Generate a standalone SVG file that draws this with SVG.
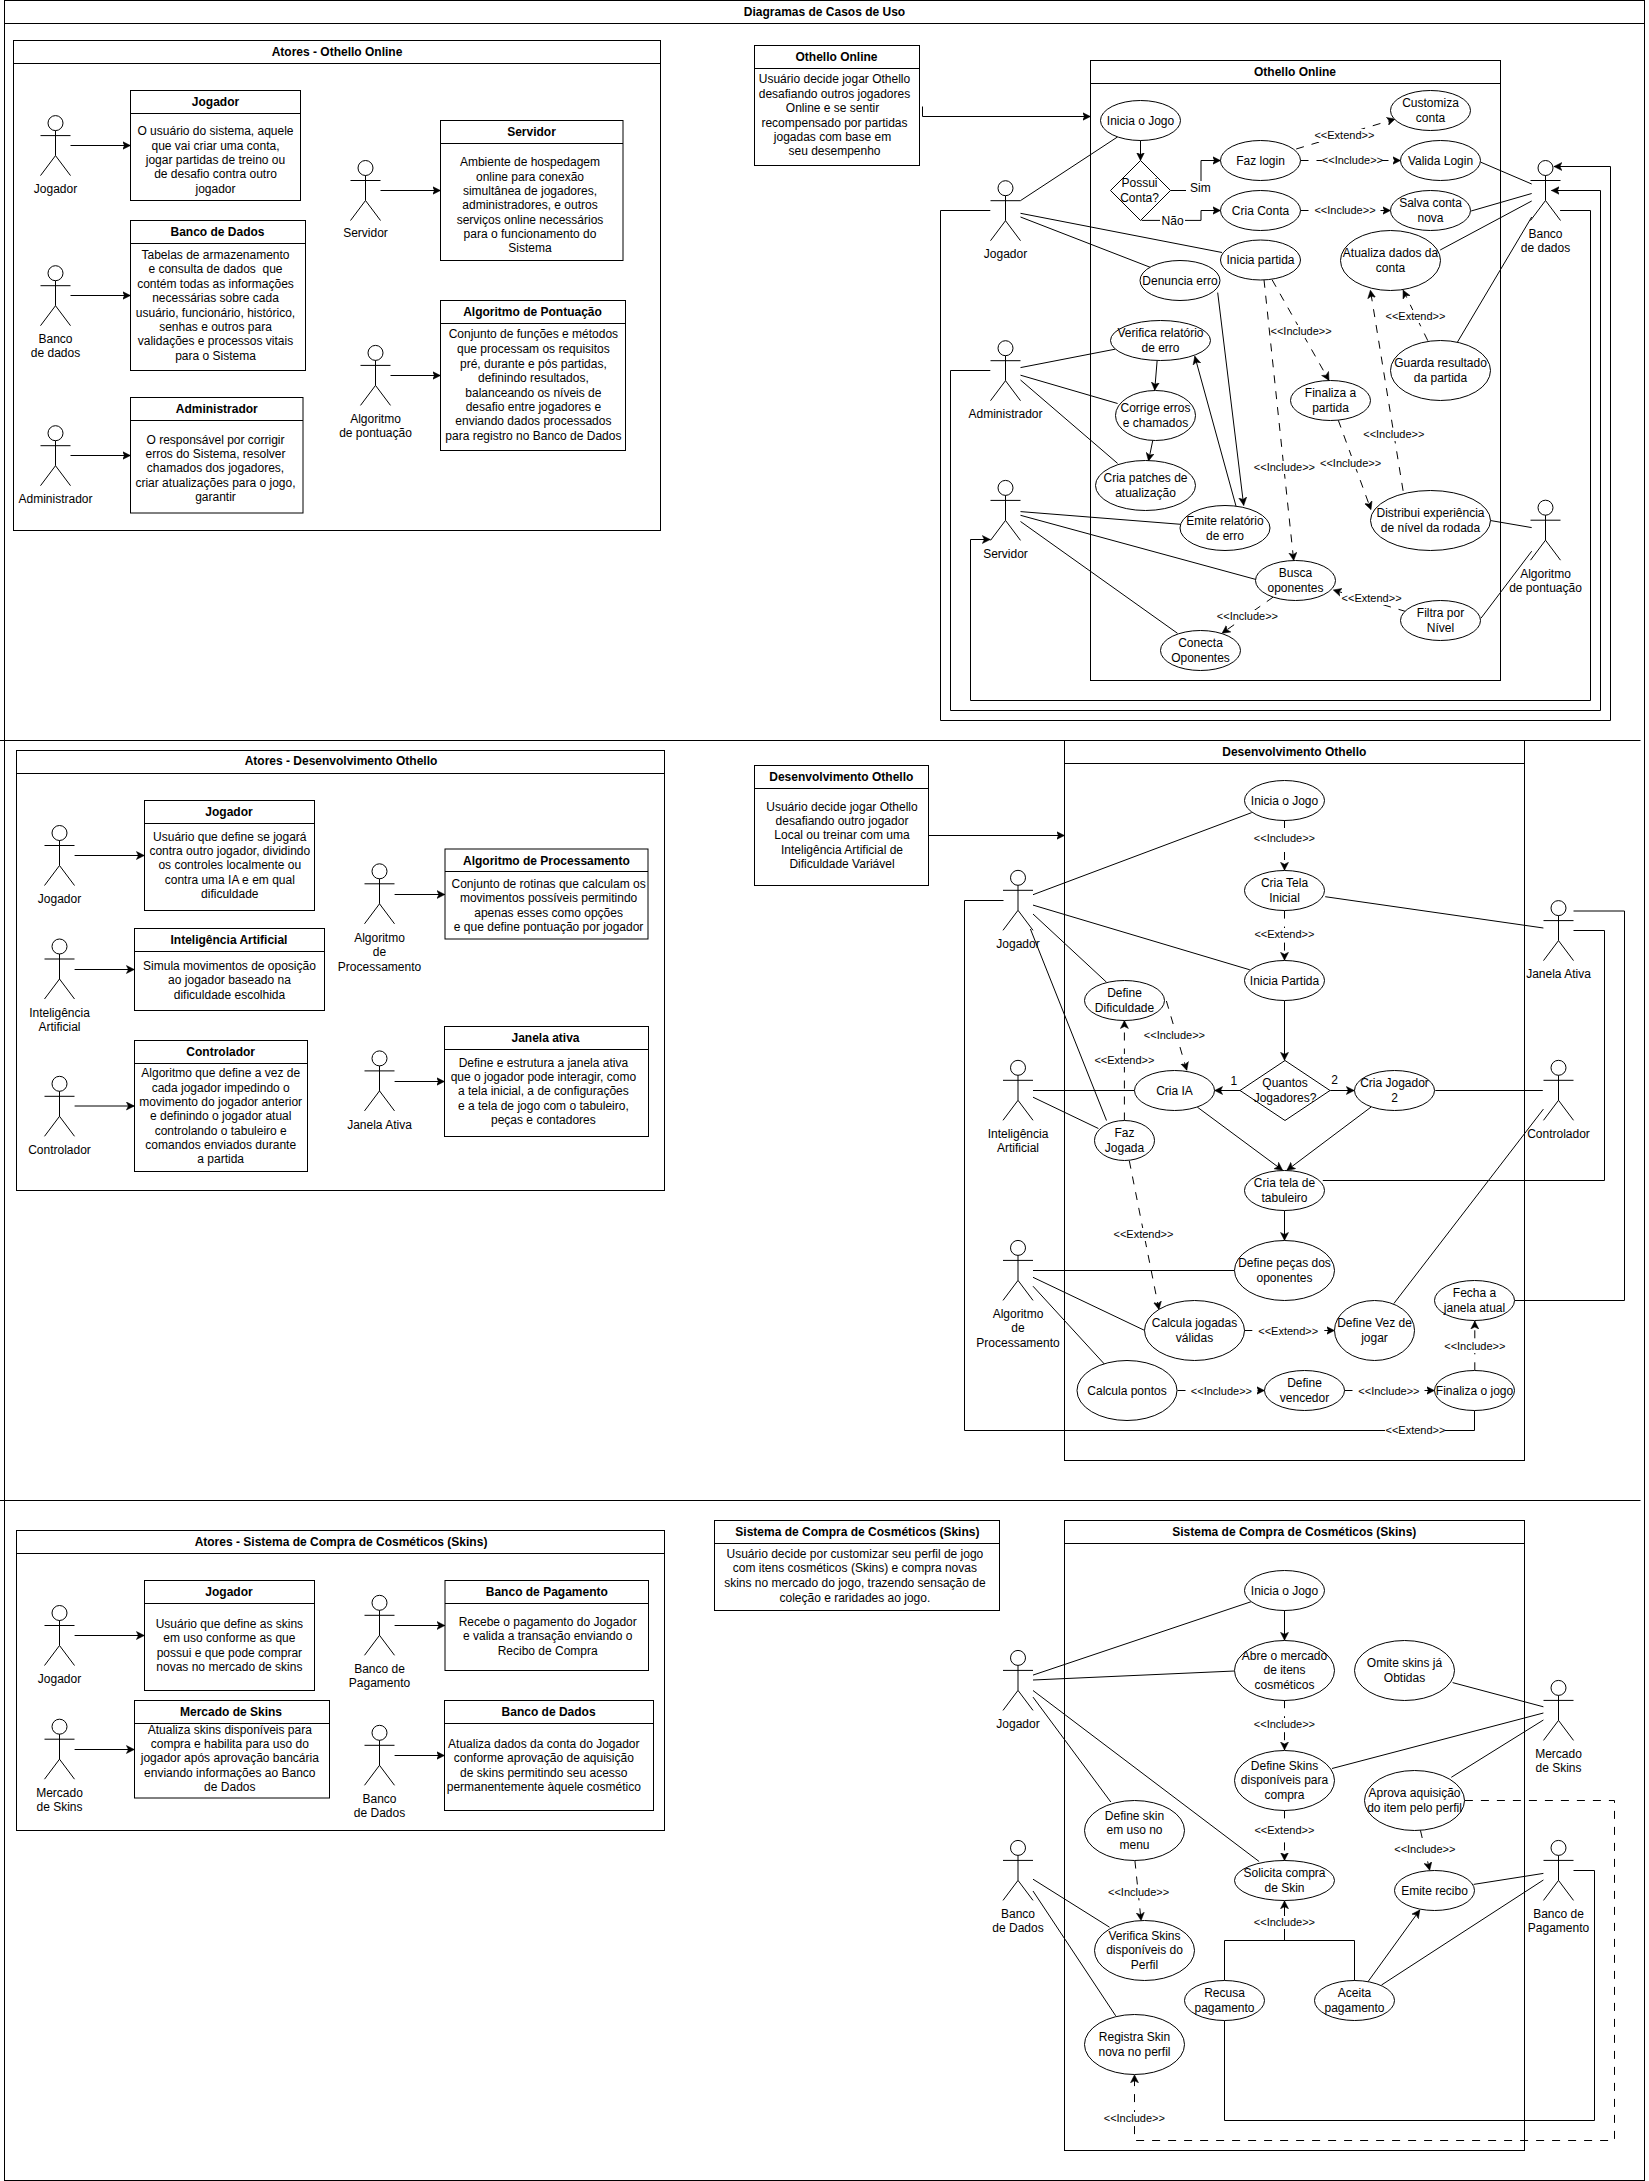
<svg xmlns="http://www.w3.org/2000/svg" width="1649" height="2181" viewBox="0 0 1649 2181">
<defs>
<marker id="ah" markerUnits="userSpaceOnUse" markerWidth="9" markerHeight="9" refX="8" refY="4" orient="auto" viewBox="0 0 9 8"><path d="M0 0L8 4L0 8L2 4Z" fill="#000" stroke="#000" stroke-width=".5"/></marker>
</defs>
<style>
text{font-family:"Liberation Sans",Arial,Helvetica,sans-serif;font-size:12px;fill:#000;text-anchor:middle}
.t{font-weight:bold}
.m{font-size:11px}
.box{fill:none;stroke:#000;stroke-width:1}
.n{fill:#fff;stroke:#000;stroke-width:1}
.s{fill:none;stroke:#000;stroke-width:1}
.a{marker-end:url(#ah)}
.d{stroke-dasharray:8 8}
.w{fill:#fff;stroke:none}
.actor ellipse{fill:#fff;stroke:#000}
.actor path{fill:none;stroke:#000}
</style>
<rect width="1649" height="2181" fill="#fff"/>
<g id="frame">
<rect class="box" x="4.5" y="0.5" width="1640" height="2180"/>
<path class="s" d="M4.5 23.5H1644.5M0 740.5H1640.5M0 1500.5H1640.5"/>
<text class="t" x="824.5" y="16">Diagramas de Casos de Uso</text>
</g>

<g id="lane-atores-online"><rect class="box" x="13.5" y="40.5" width="647" height="490"/><path class="s" d="M13.5 63.5H660.5"/><text class="t" x="337" y="56">Atores - Othello Online</text></g>
<g id="lane-online"><rect class="box" x="1090.5" y="60.5" width="410" height="620"/><path class="s" d="M1090.5 83.5H1500.5"/><text class="t" x="1295" y="76">Othello Online</text></g>
<g id="lane-atores-dev"><rect class="box" x="16.5" y="750.5" width="648" height="440"/><path class="s" d="M16.5 773.5H664.5"/><text class="t" x="341" y="765">Atores - Desenvolvimento Othello</text></g>
<g id="lane-dev"><rect class="box" x="1064.5" y="740.5" width="460" height="720"/><path class="s" d="M1064.5 763.5H1524.5"/><text class="t" x="1294.3" y="755.5">Desenvolvimento Othello</text></g>
<g id="lane-atores-skins"><rect class="box" x="16.5" y="1530.5" width="648" height="300"/><path class="s" d="M16.5 1553.5H664.5"/><text class="t" x="341" y="1546">Atores - Sistema de Compra de Cosméticos (Skins)</text></g>
<g id="lane-skins"><rect class="box" x="1064.5" y="1520.5" width="460" height="630"/><path class="s" d="M1064.5 1543.5H1524.5"/><text class="t" x="1294.3" y="1536">Sistema de Compra de Cosméticos (Skins)</text></g>

<g id="connectors">
<!-- section 1 actors -->
<path class="s a" d="M70.5 145.5H130.5"/><path class="s a" d="M70.5 295.5H130.5"/><path class="s a" d="M70.5 455.5H130.5"/>
<path class="s a" d="M380.5 190.5H440.5"/><path class="s a" d="M390.5 375.5H440.5"/>
<!-- online -->
<path class="s a" d="M922.5 106.5V116.5H1090.5"/>
<path class="s a" d="M1140.5 140.2V160.5"/>
<path class="s" d="M1020.5 200.6L1117.6 136.9"/>
<path class="s a" d="M1170.5 190.5H1201V160.5H1220.5"/>
<path class="s a" d="M1141.7 220.4H1201V210.5H1220.5"/>
<path class="s d a" d="M1296.2 149L1395.1 119"/>
<path class="s d a" d="M1300.5 160.5H1400.5"/>
<path class="s d a" d="M1300.5 210.5H1390.5"/>
<path class="s" d="M1481 162.3L1531.7 184"/>
<path class="s" d="M1471.1 211L1531.7 193.5"/>
<path class="s" d="M1440.2 250L1531.7 201"/>
<path class="s" d="M1457.5 342L1531.7 217"/>
<path class="s" d="M1020.5 213.3L1222 252.5"/>
<path class="s" d="M1020.5 217L1151 267.6"/>
<path class="s a" d="M1217.7 292.6L1243.7 505.4"/>
<path class="s a" d="M1236.2 506.8L1194.8 356.3"/>
<path class="s a" d="M1157.1 361L1154.7 390.3"/>
<path class="s a" d="M1152.8 440.3L1148.5 461"/>
<path class="s" d="M1020.5 367.6L1115.1 349.2"/>
<path class="s" d="M1020.5 375.2L1117.6 403.5"/>
<path class="s" d="M1020.5 380L1117.6 463.4"/>
<path class="s" d="M1020.5 511.6L1180.6 524.3"/>
<path class="s" d="M1020.5 515.3L1256 579.5"/>
<path class="s" d="M1020.5 521.5L1177.5 633.3"/>
<path class="s d a" d="M1264 279.8L1293.7 560.6"/>
<path class="s d a" d="M1272.1 279.8L1329 380.4"/>
<path class="s d a" d="M1338.2 420L1371 509.7"/>
<path class="s d a" d="M1403.1 490.8L1370.4 290.2"/>
<path class="s d a" d="M1427.8 340.7L1403.1 290.2"/>
<path class="s" d="M1490.3 520.5L1531.7 527.6"/>
<path class="s d a" d="M1406.2 611.6L1333.3 590"/>
<path class="s" d="M1481 618.2L1531.7 551.2"/>
<path class="s d a" d="M1273.3 597L1222 633.3"/>
<path class="s a" d="M990.3 210.5H940.5V720.5H1610.5V166.5H1553.9"/>
<path class="s a" d="M990.3 370.5H950.5V710.5H1600.5V190.5H1551.4"/>
<path class="s a" d="M1560.1 210.5H1590.5V700.5H970.5V539.5H990.3"/>
<!-- section 2 -->
<path class="s a" d="M74.6 855.5H144.4"/><path class="s a" d="M74.6 969.5H134.4"/><path class="s a" d="M74.6 1106H134.4"/>
<path class="s a" d="M394.6 894.5H444.9"/><path class="s a" d="M394.6 1081.5H444.5"/>
<path class="s a" d="M928.5 835.5H1064.5"/>
<path class="s" d="M1033 894.7L1251.7 812.6"/>
<path class="s" d="M1033 905.1L1249.8 969.8"/>
<path class="s" d="M1033 914L1106.5 982.2"/>
<path class="s" d="M1030.4 929L1106.5 1120.5"/>
<path class="s d a" d="M1284.5 820V870.3"/>
<path class="s d a" d="M1284.5 910.6V960.3"/>
<path class="s" d="M1325.2 896.7L1543.4 928"/>
<path class="s a" d="M1284.5 1000.6V1060.3"/>
<path class="s d a" d="M1166.4 1001L1186.8 1070.3"/>
<path class="s d a" d="M1124.4 1120.5V1020.5"/>
<path class="s d a" d="M1129.3 1160.8L1159 1309.6"/>
<path class="s a" d="M1240 1090.5H1214.6"/>
<path class="s a" d="M1330.2 1090.5H1354.3"/>
<path class="s" d="M1033 1090.5H1134.3"/>
<path class="s" d="M1033 1097.2L1098.4 1128.5"/>
<path class="s a" d="M1197.3 1107.1L1282.6 1170.3"/>
<path class="s a" d="M1371 1107.1L1286.9 1170.3"/>
<path class="s" d="M1435.3 1090.5H1542.8"/>
<path class="s a" d="M1284.5 1210.6V1240.4"/>
<path class="s" d="M1322.8 1180.5H1604.5V930.5H1573.5"/>
<path class="s" d="M1515 1300.5H1624.5V911H1573.5"/>
<path class="s" d="M1033 1270.5H1234.4"/>
<path class="s" d="M1033 1277.3L1144.8 1330.5"/>
<path class="s" d="M1033 1286.2L1104.6 1364.3"/>
<path class="s d a" d="M1244.3 1330.5H1334.5"/>
<path class="s" d="M1393.8 1303.6L1543.4 1109.1"/>
<path class="s d a" d="M1177.5 1390.5H1264.5"/>
<path class="s d a" d="M1344.5 1390.5H1434.5"/>
<path class="s d a" d="M1474.8 1370.3V1321"/>
<path class="s" d="M1474.5 1410.6V1430.5H964.5V900.5H1003.5"/>
<!-- section 3 -->
<path class="s a" d="M74.6 1635.5H144.4"/><path class="s a" d="M74.6 1749.5H134.4"/>
<path class="s a" d="M394.6 1625.5H444.9"/><path class="s a" d="M394.6 1755.5H444.5"/>
<path class="s" d="M1033 1675.1L1251.7 1601.5"/>
<path class="s" d="M1033 1680L1234.4 1671"/>
<path class="s" d="M1033 1697.1L1110.8 1802"/>
<path class="s" d="M1033 1690.5L1259.1 1861.5"/>
<path class="s a" d="M1284.5 1609.9V1640.3"/>
<path class="s d a" d="M1284.5 1700.2V1750"/>
<path class="s d a" d="M1284.5 1810.4V1860.6"/>
<path class="s d a" d="M1134.9 1860.6L1141.1 1920.6"/>
<path class="s" d="M1033 1879.2L1109.5 1927.2"/>
<path class="s" d="M1033 1891L1115.7 2015.8"/>
<path class="s" d="M1452.6 1682.6L1543.4 1706.8"/>
<path class="s" d="M1332 1768.5L1543.4 1713"/>
<path class="s" d="M1451.3 1777.3L1543.4 1720"/>
<path class="s d a" d="M1420.4 1830.2L1429.7 1870.3"/>
<path class="s" d="M1473.6 1884.4L1543.4 1873.4"/>
<path class="s a" d="M1367.9 1981.8L1419.8 1910"/>
<path class="s" d="M1381.5 1985L1543.4 1880"/>
<path class="s" d="M1224.5 1980.5V1940.5H1354.5V1981.8"/>
<path class="s a" d="M1284.5 1940.5V1900.8"/>
<path class="s" d="M1224.5 2020.6V2120.5H1594.5V1870.5H1573.5"/>
<path class="s d a" d="M1464.9 1800.5H1614.5V2140.5H1134.5V2074.8"/>
<!-- labels -->
<rect class="w" x="1186" y="181" width="29" height="14"/><text x="1200.4" y="192">Sim</text>
<rect class="w" x="1160" y="213" width="25" height="14"/><text x="1172.6" y="224.5">Não</text>
<rect class="w" x="1315" y="129" width="60" height="13"/><text class="m" x="1344.4" y="139">&lt;&lt;Extend&gt;&gt;</text>
<rect class="w" x="1322" y="154" width="60" height="13"/><text class="m" x="1352.4" y="164">&lt;&lt;Include&gt;&gt;</text>
<rect class="w" x="1315" y="204" width="60" height="13"/><text class="m" x="1345" y="214">&lt;&lt;Include&gt;&gt;</text>
<rect class="w" x="1254" y="461" width="60" height="13"/><text class="m" x="1284.4" y="471">&lt;&lt;Include&gt;&gt;</text>
<rect class="w" x="1271" y="325" width="60" height="13"/><text class="m" x="1301.1" y="335">&lt;&lt;Include&gt;&gt;</text>
<rect class="w" x="1321" y="456" width="60" height="13"/><text class="m" x="1350.6" y="466.5">&lt;&lt;Include&gt;&gt;</text>
<rect class="w" x="1364" y="428" width="60" height="13"/><text class="m" x="1393.8" y="438">&lt;&lt;Include&gt;&gt;</text>
<rect class="w" x="1385" y="310" width="60" height="13"/><text class="m" x="1415.5" y="320">&lt;&lt;Extend&gt;&gt;</text>
<rect class="w" x="1342" y="592" width="60" height="13"/><text class="m" x="1371.6" y="602">&lt;&lt;Extend&gt;&gt;</text>
<rect class="w" x="1217" y="610" width="60" height="13"/><text class="m" x="1247.4" y="620">&lt;&lt;Include&gt;&gt;</text>

<rect class="w" x="1254" y="832" width="60" height="13"/><text class="m" x="1284.4" y="842">&lt;&lt;Include&gt;&gt;</text>
<rect class="w" x="1254" y="928" width="60" height="13"/><text class="m" x="1284.4" y="938">&lt;&lt;Extend&gt;&gt;</text>
<rect class="w" x="1144" y="1029" width="60" height="13"/><text class="m" x="1174.4" y="1039">&lt;&lt;Include&gt;&gt;</text>
<rect class="w" x="1094" y="1054" width="60" height="13"/><text class="m" x="1124.4" y="1064">&lt;&lt;Extend&gt;&gt;</text>
<rect class="w" x="1113" y="1228" width="60" height="13"/><text class="m" x="1143.5" y="1238">&lt;&lt;Extend&gt;&gt;</text>
<text x="1233.8" y="1084.5">1</text><text x="1334.5" y="1084">2</text>
<rect class="w" x="1258" y="1324" width="60" height="13"/><text class="m" x="1288.2" y="1334.5">&lt;&lt;Extend&gt;&gt;</text>
<rect class="w" x="1191" y="1384" width="60" height="13"/><text class="m" x="1221.4" y="1394.5">&lt;&lt;Include&gt;&gt;</text>
<rect class="w" x="1359" y="1384" width="60" height="13"/><text class="m" x="1388.9" y="1394.5">&lt;&lt;Include&gt;&gt;</text>
<rect class="w" x="1445" y="1340" width="60" height="13"/><text class="m" x="1474.8" y="1350">&lt;&lt;Include&gt;&gt;</text>
<rect class="w" x="1385" y="1424" width="60" height="13"/><text class="m" x="1415.5" y="1434">&lt;&lt;Extend&gt;&gt;</text>

<rect class="w" x="1254" y="1718" width="60" height="13"/><text class="m" x="1284.4" y="1728">&lt;&lt;Include&gt;&gt;</text>
<rect class="w" x="1254" y="1824" width="60" height="13"/><text class="m" x="1284.4" y="1834">&lt;&lt;Extend&gt;&gt;</text>
<rect class="w" x="1108" y="1885" width="60" height="13"/><text class="m" x="1138.6" y="1895.5">&lt;&lt;Include&gt;&gt;</text>
<rect class="w" x="1395" y="1843" width="60" height="13"/><text class="m" x="1424.8" y="1853">&lt;&lt;Include&gt;&gt;</text>
<rect class="w" x="1254" y="1916" width="60" height="13"/><text class="m" x="1284.4" y="1926">&lt;&lt;Include&gt;&gt;</text>
<rect class="w" x="1104" y="2112" width="60" height="13"/><text class="m" x="1134.3" y="2122">&lt;&lt;Include&gt;&gt;</text>
</g>

<!-- info boxes section 1 -->
<g id="box-jogador-1"><rect class="box" x="130.5" y="90.5" width="170" height="110"/><path class="s" d="M130.5 113.5H300.5"/><text class="t" x="215.5" y="106">Jogador</text><text><tspan x="215.5" y="135">O usuário do sistema, aquele</tspan><tspan x="215.5" y="149.5">que vai criar uma conta,</tspan><tspan x="215.5" y="163.5">jogar partidas de treino ou</tspan><tspan x="215.5" y="178">de desafio contra outro</tspan><tspan x="215.5" y="192.5">jogador</tspan></text></g>
<g id="box-banco-1"><rect class="box" x="130.5" y="220.5" width="175" height="150"/><path class="s" d="M130.5 243.5H305.5"/><text class="t" x="217.5" y="236">Banco de Dados</text><text><tspan x="215.5" y="259">Tabelas de armazenamento</tspan><tspan x="215.5" y="273" xml:space="preserve">e consulta de dados  que</tspan><tspan x="215.5" y="287.5">contém todas as informações</tspan><tspan x="215.5" y="302">necessárias sobre cada</tspan><tspan x="215.5" y="316.5">usuário, funcionário, histórico,</tspan><tspan x="215.5" y="331">senhas e outros para</tspan><tspan x="215.5" y="345">validações e processos vitais</tspan><tspan x="215.5" y="359.5">para o Sistema</tspan></text></g>
<g id="box-admin-1"><rect class="box" x="130.5" y="397.5" width="172.5" height="115.5"/><path class="s" d="M130.5 420.5H303"/><text class="t" x="216.8" y="413">Administrador</text><text><tspan x="215.5" y="444">O responsável por corrigir</tspan><tspan x="215.5" y="458">erros do Sistema, resolver</tspan><tspan x="215.5" y="472">chamados dos jogadores,</tspan><tspan x="215.5" y="487">criar atualizações para o jogo,</tspan><tspan x="215.5" y="501">garantir</tspan></text></g>
<g id="box-servidor-1"><rect class="box" x="440.5" y="120.5" width="182.5" height="140"/><path class="s" d="M440.5 143.5H623"/><text class="t" x="531.5" y="136">Servidor</text><text><tspan x="530" y="166">Ambiente de hospedagem</tspan><tspan x="530" y="181">online para conexão</tspan><tspan x="530" y="195">simultânea de jogadores,</tspan><tspan x="530" y="209">administradores, e outros</tspan><tspan x="530" y="224">serviços online necessários</tspan><tspan x="530" y="238">para o funcionamento do</tspan><tspan x="530" y="252">Sistema</tspan></text></g>
<g id="box-algoritmo-1"><rect class="box" x="440.5" y="300.5" width="185" height="150"/><path class="s" d="M440.5 323.5H625.5"/><text class="t" x="532.5" y="316">Algoritmo de Pontuação</text><text><tspan x="533.4" y="338">Conjunto de funções e métodos</tspan><tspan x="533.4" y="353">que processam os requisitos</tspan><tspan x="533.4" y="368">pré, durante e pós partidas,</tspan><tspan x="533.4" y="382">definindo resultados,</tspan><tspan x="533.4" y="397">balanceando os níveis de</tspan><tspan x="533.4" y="411">desafio entre jogadores e</tspan><tspan x="533.4" y="425">enviando dados processados</tspan><tspan x="533.4" y="440">para registro no Banco de Dados</tspan></text></g>
<g id="box-online"><rect class="box" x="754.5" y="45.5" width="165" height="120"/><path class="s" d="M754.5 68.5H919.5"/><text class="t" x="836.5" y="61">Othello Online</text><text><tspan x="834.5" y="83">Usuário decide jogar Othello</tspan><tspan x="834.5" y="97.5">desafiando outros jogadores</tspan><tspan x="832.5" y="112">Online e se sentir</tspan><tspan x="834.5" y="127">recompensado por partidas</tspan><tspan x="832.5" y="141">jogadas com base em</tspan><tspan x="834.5" y="155">seu desempenho</tspan></text></g>

<!-- section 2 boxes -->
<g id="box-jogador-2"><rect class="box" x="144.5" y="800.5" width="170" height="110"/><path class="s" d="M144.5 823.5H314.5"/><text class="t" x="229" y="816">Jogador</text><text><tspan x="229.8" y="840.5">Usuário que define se jogará</tspan><tspan x="229.8" y="854.5">contra outro jogador, dividindo</tspan><tspan x="229.8" y="869">os controles localmente ou</tspan><tspan x="229.8" y="884">contra uma IA e em qual</tspan><tspan x="229.8" y="898">dificuldade</tspan></text></g>
<g id="box-ia-2"><rect class="box" x="134.5" y="928.5" width="190" height="82"/><path class="s" d="M134.5 951.5H324.5"/><text class="t" x="229" y="943.5">Inteligência Artificial</text><text><tspan x="229.5" y="969.5">Simula movimentos de oposição</tspan><tspan x="229.5" y="984">ao jogador baseado na</tspan><tspan x="229.5" y="999">dificuldade escolhida</tspan></text></g>
<g id="box-controlador-2"><rect class="box" x="134.5" y="1040.5" width="173" height="131"/><path class="s" d="M134.5 1063.5H307.5"/><text class="t" x="220.7" y="1055.5">Controlador</text><text><tspan x="220.7" y="1077">Algoritmo que define a vez de</tspan><tspan x="220.7" y="1092">cada jogador impedindo o</tspan><tspan x="220.7" y="1106">movimento do jogador anterior</tspan><tspan x="220.7" y="1120">e definindo o jogador atual</tspan><tspan x="220.7" y="1134.5">controlando o tabuleiro e</tspan><tspan x="220.7" y="1148.5">comandos enviados durante</tspan><tspan x="220.7" y="1162.5">a partida</tspan></text></g>
<g id="box-processamento-2"><rect class="box" x="445" y="849" width="203" height="90"/><path class="s" d="M445 871.5H648"/><text class="t" x="546.4" y="864.5">Algoritmo de Processamento</text><text><tspan x="548.6" y="888">Conjunto de rotinas que calculam os</tspan><tspan x="548.6" y="902">movimentos possíveis permitindo</tspan><tspan x="548.6" y="917">apenas esses como opções</tspan><tspan x="548.6" y="930.5">e que define pontuação por jogador</tspan></text></g>
<g id="box-janela-2"><rect class="box" x="444.5" y="1026.5" width="204" height="110"/><path class="s" d="M444.5 1049.5H648.5"/><text class="t" x="545.5" y="1041.5">Janela ativa</text><text><tspan x="543.4" y="1066.5">Define e estrutura a janela ativa</tspan><tspan x="543.4" y="1081">que o jogador pode interagir, como</tspan><tspan x="543.4" y="1095">a tela inicial, a de configurações</tspan><tspan x="543.4" y="1109.5">e a tela de jogo com o tabuleiro,</tspan><tspan x="543.4" y="1123.5">peças e contadores</tspan></text></g>
<g id="box-dev"><rect class="box" x="754.5" y="765.5" width="174" height="120"/><path class="s" d="M754.5 788.5H928.5"/><text class="t" x="841.3" y="781">Desenvolvimento Othello</text><text><tspan x="842" y="811">Usuário decide jogar Othello</tspan><tspan x="842" y="825">desafiando outro jogador</tspan><tspan x="842" y="839">Local ou treinar com uma</tspan><tspan x="842" y="853.5">Inteligência Artificial de</tspan><tspan x="842" y="868">Dificuldade Variável</tspan></text></g>

<!-- section 3 boxes -->
<g id="box-jogador-3"><rect class="box" x="144.5" y="1580.5" width="170" height="110"/><path class="s" d="M144.5 1603.5H314.5"/><text class="t" x="229" y="1596">Jogador</text><text><tspan x="229.4" y="1627.5">Usuário que define as skins</tspan><tspan x="229.4" y="1641.5">em uso conforme as que</tspan><tspan x="229.4" y="1656.5">possui e que pode comprar</tspan><tspan x="229.4" y="1670.5">novas no mercado de skins</tspan></text></g>
<g id="box-mercado-3"><rect class="box" x="134.5" y="1700.5" width="195" height="97.5"/><path class="s" d="M134.5 1723.5H329.5"/><text class="t" x="231" y="1716">Mercado de Skins</text><text><tspan x="229.8" y="1734">Atualiza skins disponíveis para</tspan><tspan x="229.8" y="1748">compra e habilita para uso do</tspan><tspan x="229.8" y="1762">jogador após aprovação bancária</tspan><tspan x="229.8" y="1776.5">enviando informações ao Banco</tspan><tspan x="229.8" y="1791">de Dados</tspan></text></g>
<g id="box-pagamento-3"><rect class="box" x="445" y="1580.5" width="203.5" height="90"/><path class="s" d="M445 1603.5H648.5"/><text class="t" x="546.8" y="1596">Banco de Pagamento</text><text><tspan x="547.7" y="1626">Recebe o pagamento do Jogador</tspan><tspan x="547.7" y="1640">e valida a transação enviando o</tspan><tspan x="547.7" y="1655">Recibo de Compra</tspan></text></g>
<g id="box-dados-3"><rect class="box" x="444.5" y="1700.5" width="209" height="110"/><path class="s" d="M444.5 1723.5H653.5"/><text class="t" x="548.6" y="1716">Banco de Dados</text><text><tspan x="543.8" y="1748">Atualiza dados da conta do Jogador</tspan><tspan x="543.8" y="1762">conforme aprovação de aquisição</tspan><tspan x="543.8" y="1776.5">de skins permitindo seu acesso</tspan><tspan x="543.8" y="1791">permanentemente àquele cosmético</tspan></text></g>
<g id="box-skins"><rect class="box" x="714.5" y="1520.5" width="285" height="90"/><path class="s" d="M714.5 1543.5H999.5"/><text class="t" x="857.4" y="1536">Sistema de Compra de Cosméticos (Skins)</text><text><tspan x="854.9" y="1558">Usuário decide por customizar seu perfil de jogo</tspan><tspan x="854.9" y="1572">com itens cosméticos (Skins) e compra novas</tspan><tspan x="854.9" y="1587">skins no mercado do jogo, trazendo sensação de</tspan><tspan x="854.9" y="1601.5">coleção e raridades ao jogo.</tspan></text></g>

<!-- actors -->
<g class="actor" id="ac1"><ellipse cx="55.5" cy="123.1" rx="7.5" ry="7.5"/><path d="M55.5 130.6V155.6M40.5 135.6H70.5M40.5 175.6L55.5 155.6L70.5 175.6"/><text x="55.5" y="192.5">Jogador</text></g>
<g class="actor" id="ac2"><ellipse cx="55.5" cy="273.2" rx="7.5" ry="7.5"/><path d="M55.5 280.7V305.7M40.5 285.7H70.5M40.5 325.7L55.5 305.7L70.5 325.7"/><text><tspan x="55.5" y="342.5">Banco</tspan><tspan x="55.5" y="356.5">de dados</tspan></text></g>
<g class="actor" id="ac3"><ellipse cx="55.5" cy="433.2" rx="7.5" ry="7.5"/><path d="M55.5 440.7V465.7M40.5 445.7H70.5M40.5 485.7L55.5 465.7L70.5 485.7"/><text x="55.5" y="503">Administrador</text></g>
<g class="actor" id="ac4"><ellipse cx="365.5" cy="168" rx="7.5" ry="7.5"/><path d="M365.5 175.5V200.5M350.5 180.5H380.5M350.5 220.5L365.5 200.5L380.5 220.5"/><text x="365.5" y="237">Servidor</text></g>
<g class="actor" id="ac5"><ellipse cx="375.5" cy="352.9" rx="7.5" ry="7.5"/><path d="M375.5 360.4V385.4M360.5 365.4H390.5M360.5 405.4L375.5 385.4L390.5 405.4"/><text><tspan x="375.5" y="422.5">Algoritmo</tspan><tspan x="375.5" y="437">de pontuação</tspan></text></g>
<g class="actor" id="ac6"><ellipse cx="1005.5" cy="188.2" rx="7.5" ry="7.5"/><path d="M1005.5 195.7V220.7M990.5 200.7H1020.5M990.5 240.7L1005.5 220.7L1020.5 240.7"/><text x="1005.5" y="258">Jogador</text></g>
<g class="actor" id="ac7"><ellipse cx="1005.5" cy="348.2" rx="7.5" ry="7.5"/><path d="M1005.5 355.7V380.7M990.5 360.7H1020.5M990.5 400.7L1005.5 380.7L1020.5 400.7"/><text x="1005.5" y="418">Administrador</text></g>
<g class="actor" id="ac8"><ellipse cx="1005.5" cy="487.9" rx="7.5" ry="7.5"/><path d="M1005.5 495.4V520.4M990.5 500.4H1020.5M990.5 540.4L1005.5 520.4L1020.5 540.4"/><text x="1005.5" y="557.5">Servidor</text></g>
<g class="actor" id="ac9"><ellipse cx="1545.5" cy="168" rx="7.5" ry="7.5"/><path d="M1545.5 175.5V200.5M1530.5 180.5H1560.5M1530.5 220.5L1545.5 200.5L1560.5 220.5"/><text><tspan x="1545.5" y="237.5">Banco</tspan><tspan x="1545.5" y="252">de dados</tspan></text></g>
<g class="actor" id="ac10"><ellipse cx="1545.5" cy="507.7" rx="7.5" ry="7.5"/><path d="M1545.5 515.2V540.2M1530.5 520.2H1560.5M1530.5 560.2L1545.5 540.2L1560.5 560.2"/><text><tspan x="1545.5" y="577.5">Algoritmo</tspan><tspan x="1545.5" y="591.5">de pontuação</tspan></text></g>

<g class="actor" id="ac11"><ellipse cx="59.5" cy="833" rx="7.5" ry="7.5"/><path d="M59.5 840.5V865.5M44.5 845.5H74.5M44.5 885.5L59.5 865.5L74.5 885.5"/><text x="59.5" y="902.5">Jogador</text></g>
<g class="actor" id="ac12"><ellipse cx="59.5" cy="946.5" rx="7.5" ry="7.5"/><path d="M59.5 954V979M44.5 959H74.5M44.5 999L59.5 979L74.5 999"/><text><tspan x="59.5" y="1016.5">Inteligência</tspan><tspan x="59.5" y="1030.5">Artificial</tspan></text></g>
<g class="actor" id="ac13"><ellipse cx="59.5" cy="1083.8" rx="7.5" ry="7.5"/><path d="M59.5 1091.3V1116.3M44.5 1096.3H74.5M44.5 1136.3L59.5 1116.3L74.5 1136.3"/><text x="59.5" y="1153.5">Controlador</text></g>
<g class="actor" id="ac14"><ellipse cx="379.5" cy="871.3" rx="7.5" ry="7.5"/><path d="M379.5 878.8V903.8M364.5 883.8H394.5M364.5 923.8L379.5 903.8L394.5 923.8"/><text><tspan x="379.5" y="941.5">Algoritmo</tspan><tspan x="379.5" y="955.5">de</tspan><tspan x="379.5" y="970.5">Processamento</tspan></text></g>
<g class="actor" id="ac15"><ellipse cx="379.5" cy="1058.4" rx="7.5" ry="7.5"/><path d="M379.5 1065.9V1090.9M364.5 1070.9H394.5M364.5 1110.9L379.5 1090.9L394.5 1110.9"/><text x="379.5" y="1128.5">Janela Ativa</text></g>
<g class="actor" id="ac16"><ellipse cx="1018" cy="877.8" rx="7.5" ry="7.5"/><path d="M1018 885.3V910.3M1003 890.3H1033M1003 930.3L1018 910.3L1033 930.3"/><text x="1018" y="947.5">Jogador</text></g>
<g class="actor" id="ac17"><ellipse cx="1018" cy="1067.8" rx="7.5" ry="7.5"/><path d="M1018 1075.3V1100.3M1003 1080.3H1033M1003 1120.3L1018 1100.3L1033 1120.3"/><text><tspan x="1018" y="1137.5">Inteligência</tspan><tspan x="1018" y="1151.5">Artificial</tspan></text></g>
<g class="actor" id="ac18"><ellipse cx="1018" cy="1247.9" rx="7.5" ry="7.5"/><path d="M1018 1255.4V1280.4M1003 1260.4H1033M1003 1300.4L1018 1280.4L1033 1300.4"/><text><tspan x="1018" y="1317.5">Algoritmo</tspan><tspan x="1018" y="1331.5">de</tspan><tspan x="1018" y="1346.5">Processamento</tspan></text></g>
<g class="actor" id="ac19"><ellipse cx="1558.5" cy="908.1" rx="7.5" ry="7.5"/><path d="M1558.5 915.6V940.6M1543.5 920.6H1573.5M1543.5 960.6L1558.5 940.6L1573.5 960.6"/><text x="1558.5" y="978">Janela Ativa</text></g>
<g class="actor" id="ac20"><ellipse cx="1558.5" cy="1067.8" rx="7.5" ry="7.5"/><path d="M1558.5 1075.3V1100.3M1543.5 1080.3H1573.5M1543.5 1120.3L1558.5 1100.3L1573.5 1120.3"/><text x="1558.5" y="1137.5">Controlador</text></g>

<g class="actor" id="ac21"><ellipse cx="59.5" cy="1613" rx="7.5" ry="7.5"/><path d="M59.5 1620.5V1645.5M44.5 1625.5H74.5M44.5 1665.5L59.5 1645.5L74.5 1665.5"/><text x="59.5" y="1682.5">Jogador</text></g>
<g class="actor" id="ac22"><ellipse cx="59.5" cy="1726.7" rx="7.5" ry="7.5"/><path d="M59.5 1734.2V1759.2M44.5 1739.2H74.5M44.5 1779.2L59.5 1759.2L74.5 1779.2"/><text><tspan x="59.5" y="1797">Mercado</tspan><tspan x="59.5" y="1810.5">de Skins</tspan></text></g>
<g class="actor" id="ac23"><ellipse cx="379.5" cy="1602.8" rx="7.5" ry="7.5"/><path d="M379.5 1610.3V1635.3M364.5 1615.3H394.5M364.5 1655.3L379.5 1635.3L394.5 1655.3"/><text><tspan x="379.5" y="1672.5">Banco de</tspan><tspan x="379.5" y="1686.5">Pagamento</tspan></text></g>
<g class="actor" id="ac24"><ellipse cx="379.5" cy="1732.8" rx="7.5" ry="7.5"/><path d="M379.5 1740.3V1765.3M364.5 1745.3H394.5M364.5 1785.3L379.5 1765.3L394.5 1785.3"/><text><tspan x="379.5" y="1803">Banco</tspan><tspan x="379.5" y="1816.5">de Dados</tspan></text></g>
<g class="actor" id="ac25"><ellipse cx="1018" cy="1657.9" rx="7.5" ry="7.5"/><path d="M1018 1665.4V1690.4M1003 1670.4H1033M1003 1710.4L1018 1690.4L1033 1710.4"/><text x="1018" y="1728">Jogador</text></g>
<g class="actor" id="ac26"><ellipse cx="1558.5" cy="1687.9" rx="7.5" ry="7.5"/><path d="M1558.5 1695.4V1720.4M1543.5 1700.4H1573.5M1543.5 1740.4L1558.5 1720.4L1573.5 1740.4"/><text><tspan x="1558.5" y="1758">Mercado</tspan><tspan x="1558.5" y="1772">de Skins</tspan></text></g>
<g class="actor" id="ac27"><ellipse cx="1018" cy="1847.9" rx="7.5" ry="7.5"/><path d="M1018 1855.4V1880.4M1003 1860.4H1033M1003 1900.4L1018 1880.4L1033 1900.4"/><text><tspan x="1018" y="1918">Banco</tspan><tspan x="1018" y="1932">de Dados</tspan></text></g>
<g class="actor" id="ac28"><ellipse cx="1558.5" cy="1847.9" rx="7.5" ry="7.5"/><path d="M1558.5 1855.4V1880.4M1543.5 1860.4H1573.5M1543.5 1900.4L1558.5 1880.4L1573.5 1900.4"/><text><tspan x="1558.5" y="1918">Banco de</tspan><tspan x="1558.5" y="1932">Pagamento</tspan></text></g>

<!-- use cases: online -->
<g id="uc1"><ellipse class="n" cx="1140.5" cy="120.5" rx="40" ry="20"/><text x="1140.5" y="124.5">Inicia o Jogo</text></g>
<g id="uc2"><path class="n" d="M1140.5 160.5L1170.5 190.5L1140.5 220.5L1110.5 190.5Z"/><text><tspan x="1139.5" y="187">Possui</tspan><tspan x="1139.5" y="202">Conta?</tspan></text></g>
<g id="uc3"><ellipse class="n" cx="1260.5" cy="160.5" rx="40" ry="20"/><text x="1260.5" y="164.5">Faz login</text></g>
<g id="uc4"><ellipse class="n" cx="1260.5" cy="210.5" rx="40" ry="20"/><text x="1260.5" y="214.5">Cria Conta</text></g>
<g id="uc5"><ellipse class="n" cx="1430.5" cy="110.5" rx="40" ry="20"/><text><tspan x="1430.5" y="107">Customiza</tspan><tspan x="1430.5" y="122">conta</tspan></text></g>
<g id="uc6"><ellipse class="n" cx="1440.5" cy="160.5" rx="40" ry="20"/><text x="1440.5" y="164.5">Valida Login</text></g>
<g id="uc7"><ellipse class="n" cx="1430.5" cy="210.5" rx="40" ry="20"/><text><tspan x="1430.5" y="207">Salva conta</tspan><tspan x="1430.5" y="222">nova</tspan></text></g>
<g id="uc8"><ellipse class="n" cx="1390.5" cy="260.5" rx="50" ry="30"/><text><tspan x="1390.5" y="257">Atualiza dados da</tspan><tspan x="1390.5" y="272">conta</tspan></text></g>
<g id="uc9"><ellipse class="n" cx="1260.5" cy="260" rx="40" ry="20"/><text x="1260.5" y="264">Inicia partida</text></g>
<g id="uc10"><ellipse class="n" cx="1180" cy="280.5" rx="40" ry="20"/><text x="1180" y="284.5">Denuncia erro</text></g>
<g id="uc11"><ellipse class="n" cx="1160.5" cy="340.5" rx="50" ry="20"/><text><tspan x="1160.5" y="337">Verifica relatório</tspan><tspan x="1160.5" y="352">de erro</tspan></text></g>
<g id="uc12"><ellipse class="n" cx="1155.5" cy="415.5" rx="40" ry="25"/><text><tspan x="1155.5" y="412">Corrige erros</tspan><tspan x="1155.5" y="427">e chamados</tspan></text></g>
<g id="uc13"><ellipse class="n" cx="1145.5" cy="485.5" rx="50" ry="25"/><text><tspan x="1145.5" y="482">Cria patches de</tspan><tspan x="1145.5" y="497">atualização</tspan></text></g>
<g id="uc14"><ellipse class="n" cx="1225" cy="528" rx="45" ry="22.5"/><text><tspan x="1225" y="525">Emite relatório</tspan><tspan x="1225" y="540">de erro</tspan></text></g>
<g id="uc15"><ellipse class="n" cx="1330.5" cy="400.5" rx="40" ry="20"/><text><tspan x="1330.5" y="397">Finaliza a</tspan><tspan x="1330.5" y="412">partida</tspan></text></g>
<g id="uc16"><ellipse class="n" cx="1440.5" cy="370.5" rx="50" ry="30"/><text><tspan x="1440.5" y="367">Guarda resultado</tspan><tspan x="1440.5" y="382">da partida</tspan></text></g>
<g id="uc17"><ellipse class="n" cx="1430.5" cy="520.5" rx="60" ry="30"/><text><tspan x="1430.5" y="517">Distribui experiência</tspan><tspan x="1430.5" y="532">de nível da rodada</tspan></text></g>
<g id="uc18"><ellipse class="n" cx="1295.5" cy="580.5" rx="40" ry="20"/><text><tspan x="1295.5" y="577">Busca</tspan><tspan x="1295.5" y="592">oponentes</tspan></text></g>
<g id="uc19"><ellipse class="n" cx="1440.5" cy="620.5" rx="40" ry="20"/><text><tspan x="1440.5" y="617">Filtra por</tspan><tspan x="1440.5" y="632">Nível</tspan></text></g>
<g id="uc20"><ellipse class="n" cx="1200.5" cy="650.5" rx="40" ry="20"/><text><tspan x="1200.5" y="647">Conecta</tspan><tspan x="1200.5" y="662">Oponentes</tspan></text></g>

<!-- use cases: dev -->
<g id="uc21"><ellipse class="n" cx="1284.5" cy="800.5" rx="40" ry="20"/><text x="1284.5" y="804.5">Inicia o Jogo</text></g>
<g id="uc22"><ellipse class="n" cx="1284.5" cy="890.5" rx="40" ry="20"/><text><tspan x="1284.5" y="887">Cria Tela</tspan><tspan x="1284.5" y="902">Inicial</tspan></text></g>
<g id="uc23"><ellipse class="n" cx="1284.5" cy="980.5" rx="40" ry="20"/><text x="1284.5" y="984.5">Inicia Partida</text></g>
<g id="uc24"><ellipse class="n" cx="1124.5" cy="1000.5" rx="40" ry="20"/><text><tspan x="1124.5" y="997">Define</tspan><tspan x="1124.5" y="1012">Dificuldade</tspan></text></g>
<g id="uc25"><ellipse class="n" cx="1174.5" cy="1090.5" rx="40" ry="20"/><text x="1174.5" y="1094.5">Cria IA</text></g>
<g id="uc26"><path class="n" d="M1285 1060.5L1330 1090.5L1285 1120.5L1240 1090.5Z"/><text><tspan x="1285" y="1087">Quantos</tspan><tspan x="1285" y="1102">Jogadores?</tspan></text></g>
<g id="uc27"><ellipse class="n" cx="1394.5" cy="1090.5" rx="40" ry="20"/><text><tspan x="1394.5" y="1087">Cria Jogador</tspan><tspan x="1394.5" y="1102">2</tspan></text></g>
<g id="uc28"><ellipse class="n" cx="1124.5" cy="1140.5" rx="30" ry="20"/><text><tspan x="1124.5" y="1137">Faz</tspan><tspan x="1124.5" y="1152">Jogada</tspan></text></g>
<g id="uc29"><ellipse class="n" cx="1284.5" cy="1190.5" rx="40" ry="20"/><text><tspan x="1284.5" y="1187">Cria tela de</tspan><tspan x="1284.5" y="1202">tabuleiro</tspan></text></g>
<g id="uc30"><ellipse class="n" cx="1284.5" cy="1270.5" rx="50" ry="30"/><text><tspan x="1284.5" y="1267">Define peças dos</tspan><tspan x="1284.5" y="1282">oponentes</tspan></text></g>
<g id="uc31"><ellipse class="n" cx="1194.5" cy="1330.5" rx="50" ry="30"/><text><tspan x="1194.5" y="1327">Calcula jogadas</tspan><tspan x="1194.5" y="1342">válidas</tspan></text></g>
<g id="uc32"><ellipse class="n" cx="1374.5" cy="1330.5" rx="40" ry="30"/><text><tspan x="1374.5" y="1327">Define Vez de</tspan><tspan x="1374.5" y="1342">jogar</tspan></text></g>
<g id="uc33"><ellipse class="n" cx="1474.5" cy="1300.5" rx="40" ry="20"/><text><tspan x="1474.5" y="1297">Fecha a</tspan><tspan x="1474.5" y="1312">janela atual</tspan></text></g>
<g id="uc34"><ellipse class="n" cx="1127" cy="1390.5" rx="50" ry="30"/><text x="1127" y="1394.5">Calcula pontos</text></g>
<g id="uc35"><ellipse class="n" cx="1304.5" cy="1390.5" rx="40" ry="20"/><text><tspan x="1304.5" y="1387">Define</tspan><tspan x="1304.5" y="1402">vencedor</tspan></text></g>
<g id="uc36"><ellipse class="n" cx="1474.5" cy="1390.5" rx="40" ry="20"/><text x="1474.5" y="1394.5">Finaliza o jogo</text></g>

<!-- use cases: skins -->
<g id="uc37"><ellipse class="n" cx="1284.5" cy="1590.5" rx="40" ry="20"/><text x="1284.5" y="1594.5">Inicia o Jogo</text></g>
<g id="uc38"><ellipse class="n" cx="1284.5" cy="1670.5" rx="50" ry="30"/><text><tspan x="1284.5" y="1660">Abre o mercado</tspan><tspan x="1284.5" y="1674">de itens</tspan><tspan x="1284.5" y="1689">cosméticos</tspan></text></g>
<g id="uc39"><ellipse class="n" cx="1404.5" cy="1670.5" rx="50" ry="30"/><text><tspan x="1404.5" y="1667">Omite skins já</tspan><tspan x="1404.5" y="1682">Obtidas</tspan></text></g>
<g id="uc40"><ellipse class="n" cx="1284.5" cy="1780.5" rx="50" ry="30"/><text><tspan x="1284.5" y="1769.5">Define Skins</tspan><tspan x="1284.5" y="1784">disponíveis para</tspan><tspan x="1284.5" y="1799">compra</tspan></text></g>
<g id="uc41"><ellipse class="n" cx="1414.5" cy="1800.5" rx="50" ry="30"/><text><tspan x="1414.5" y="1797">Aprova aquisição</tspan><tspan x="1414.5" y="1812">do item pelo perfil</tspan></text></g>
<g id="uc42"><ellipse class="n" cx="1134.5" cy="1830.5" rx="50" ry="30"/><text><tspan x="1134.5" y="1820">Define skin</tspan><tspan x="1134.5" y="1834">em uso no</tspan><tspan x="1134.5" y="1849">menu</tspan></text></g>
<g id="uc43"><ellipse class="n" cx="1284.5" cy="1880.5" rx="50" ry="20"/><text><tspan x="1284.5" y="1877">Solicita compra</tspan><tspan x="1284.5" y="1892">de Skin</tspan></text></g>
<g id="uc44"><ellipse class="n" cx="1434.5" cy="1890.5" rx="40" ry="20"/><text x="1434.5" y="1894.5">Emite recibo</text></g>
<g id="uc45"><ellipse class="n" cx="1144.5" cy="1950.5" rx="50" ry="30"/><text><tspan x="1144.5" y="1940">Verifica Skins</tspan><tspan x="1144.5" y="1954">disponíveis do</tspan><tspan x="1144.5" y="1969">Perfil</tspan></text></g>
<g id="uc46"><ellipse class="n" cx="1224.5" cy="2000.5" rx="40" ry="20"/><text><tspan x="1224.5" y="1997">Recusa</tspan><tspan x="1224.5" y="2012">pagamento</tspan></text></g>
<g id="uc47"><ellipse class="n" cx="1354.5" cy="2000.5" rx="40" ry="20"/><text><tspan x="1354.5" y="1997">Aceita</tspan><tspan x="1354.5" y="2012">pagamento</tspan></text></g>
<g id="uc48"><ellipse class="n" cx="1134.5" cy="2044.5" rx="50" ry="30"/><text><tspan x="1134.5" y="2041">Registra Skin</tspan><tspan x="1134.5" y="2056">nova no perfil</tspan></text></g>
</svg>
